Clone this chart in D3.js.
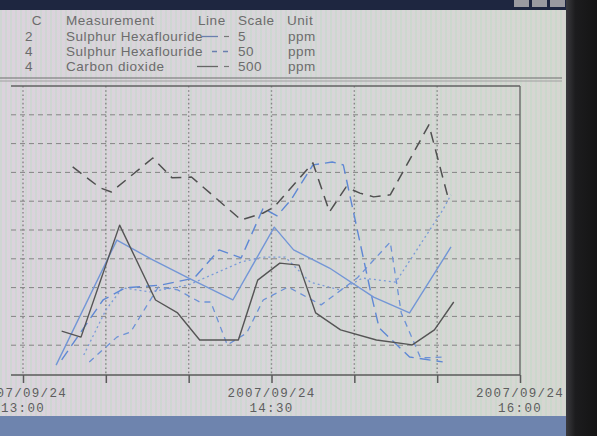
<!DOCTYPE html>
<html><head><meta charset="utf-8">
<script src="https://cdn.jsdelivr.net/npm/d3@7"></script>
<style>body{margin:0;background:#1b1b1b;overflow:hidden} svg{display:block}</style>
</head><body><svg id="c" width="597" height="436"></svg>
<script>
// ---------- data ----------
const tickTimes  = ["13:00","13:30","14:00","14:30","15:00","15:30","16:00"];
const labelTimes = ["13:00","14:30","16:00"];
const dateLabel  = "2007/09/24";
const yGrid      = [1,2,3,4,5,6,7,8,9];

const legendHeader = ["C","Measurement","Line","Scale","Unit"];
const legendC      = ["2","4","4"];
const legendName   = ["Sulphur Hexaflouride","Sulphur Hexaflouride","Carbon dioxide"];
const legendScale  = ["5","50","500"];
const legendUnit   = ["ppm","ppm","ppm"];

// values in grid divisions (0-10) of each trace's own full scale
const seriesA = [["13:18",7.19],["13:28",6.46],["13:32",6.32],["13:47",7.5],["13:54",6.81],["14:01",6.84],
  ["14:19",5.35],["14:27",5.59],["14:31",5.8],["14:45",7.33],["14:51",5.63],["14:57",6.49],["15:02",6.28],
  ["15:07",6.15],["15:13",6.22],["15:27",8.65],["15:34",6.11]];
const seriesB = [["13:14",1.49],["13:21",1.28],["13:35",5.17],["13:48",2.57],["13:56",2.12],["14:04",1.18],
  ["14:18",1.18],["14:25",3.26],["14:33",3.85],["14:40",3.78],["14:46",2.12],["14:55",1.53],["15:08",1.18],
  ["15:21",1.01],["15:29",1.53],["15:36",2.5]];
const seriesC = [["13:12",0.31],["13:34",4.65],["13:47",3.96],["14:00",3.33],["14:16",2.57],["14:31",5.1],
  ["14:38",4.31],["14:51",3.68],["15:07",2.67],["15:20",2.12],["15:35",4.41]];
const seriesD = [["13:14",0.49],["13:29",2.57],["13:37",2.99],["13:50",3.09],["14:02",3.33],["14:11",4.31],
  ["14:19",4.03],["14:27",5.76],["14:32",5.49],["14:37",6.04],["14:45",7.26],["14:52",7.36],["14:56",7.26],
  ["15:06",2.81],["15:09",1.6],["15:20",0.59],["15:32",0.42]];
const seriesE = [["13:24",0.42],["13:34",1.28],["13:39",1.46],["13:49",3.02],["13:56",2.92],["14:04",2.5],
  ["14:08",2.5],["14:14",1.01],["14:21",1.42],["14:27",2.57],["14:36",3.02],["14:48",2.4],["15:01",3.33],
  ["15:13",4.58],["15:17",2.12],["15:24",0.56],["15:33",0.59]];
const seriesF = [["13:22",0.66],["13:30",2.22],["13:36",2.99],["13:46",2.85],["14:00",3.09],["14:19",3.89],
  ["14:27",4.06],["14:35",4.06],["14:44",3.19],["14:55",2.92],["15:03",3.33],["15:15",3.19],["15:32",5.69],
  ["15:35",6.22]];

// ---------- drawing ----------
const svg = d3.select("#c");
const parse = d3.timeParse("%H:%M");

const defs = svg.append("defs");
const g1 = defs.append("linearGradient").attr("id","bg").attr("x1",0).attr("x2",1).attr("y1",0).attr("y2",0);
g1.append("stop").attr("offset","0").attr("stop-color","#dcd2dd");
g1.append("stop").attr("offset","0.55").attr("stop-color","#d9d5da");
g1.append("stop").attr("offset","1").attr("stop-color","#d6d6d1");
const g2 = defs.append("linearGradient").attr("id","bez").attr("x1",0).attr("x2",1);
g2.append("stop").attr("offset","0").attr("stop-color","#3a3a3e");
g2.append("stop").attr("offset","0.3").attr("stop-color","#1c1c1e");
g2.append("stop").attr("offset","1").attr("stop-color","#141414");
const pat = defs.append("pattern").attr("id","moire").attr("width",5).attr("height",4).attr("patternUnits","userSpaceOnUse");
pat.append("rect").attr("width",2).attr("height",4).attr("fill","#b8dcc0").attr("opacity",0.35);

// screen background
svg.append("rect").attr("width",597).attr("height",436).attr("fill","#1a1a1a");
svg.append("rect").attr("x",0).attr("y",9).attr("width",568).attr("height",408).attr("fill","url(#bg)");
svg.append("rect").attr("x",0).attr("y",9).attr("width",568).attr("height",408).attr("fill","url(#moire)");
// title bar
svg.append("rect").attr("x",0).attr("y",0).attr("width",568).attr("height",10).attr("fill","#1e2640");
svg.selectAll("rect.btn").data([0,1,2]).join("rect").attr("class","btn")
  .attr("x",(d,i)=>514+i*18).attr("y",0).attr("width",15).attr("height",7).attr("fill","#9a9aa0");
// bottom task bar
svg.append("rect").attr("x",0).attr("y",416).attr("width",568).attr("height",20).attr("fill","#6e84ae");
// right bezel
svg.append("rect").attr("x",566).attr("y",0).attr("width",31).attr("height",436).attr("fill","url(#bez)");

// header / legend
const txt = "#6c6c6c";
const hf = "'Liberation Sans', Arial, sans-serif";
const hy = [25, 41, 56, 71];
const L = svg.append("g").attr("font-family",hf).attr("font-size",13.5).attr("fill",txt).attr("letter-spacing",0.55);
const hx = [37, 66, 198, 238, 287];
legendHeader.forEach((h,i)=>{
  L.append("text").attr("x",hx[i]).attr("y",hy[0]).attr("text-anchor", i===0?"middle":"start").text(h);
});
legendC.forEach((c,i)=> L.append("text").attr("x",29).attr("y",hy[i+1]).attr("text-anchor","middle").text(c));
legendName.forEach((c,i)=> L.append("text").attr("x",66).attr("y",hy[i+1]).text(c));
legendScale.forEach((c,i)=> L.append("text").attr("x",238).attr("y",hy[i+1]).text(c));
legendUnit.forEach((c,i)=> L.append("text").attr("x",288).attr("y",hy[i+1]).text(c));
// line samples
const sampleStyle = [
  {x1:202,x2:218,stroke:"#6a7fae",dash:null,sep:true},
  {x1:212,x2:230,stroke:"#6a7fae",dash:"5,6",sep:false},
  {x1:197,x2:218,stroke:"#666",dash:null,sep:true}];
sampleStyle.forEach((s,i)=>{
  L.append("line").attr("x1",s.x1).attr("x2",s.x2).attr("y1",hy[i+1]-4.5).attr("y2",hy[i+1]-4.5)
    .attr("stroke",s.stroke).attr("stroke-width",1.3).attr("stroke-dasharray",s.dash);
  if (s.sep) L.append("line").attr("x1",224).attr("x2",229).attr("y1",hy[i+1]-4.5).attr("y2",hy[i+1]-4.5)
    .attr("stroke","#777").attr("stroke-width",1.2);
});
// separator
svg.append("line").attr("x1",0).attr("x2",562).attr("y1",78).attr("y2",78).attr("stroke","#6e6e6e").attr("stroke-width",1.2);
svg.append("line").attr("x1",0).attr("x2",562).attr("y1",81).attr("y2",81).attr("stroke","#a0a0a0").attr("stroke-width",1);

// plot scales
const x = d3.scaleTime().domain([parse("13:00"), parse("16:00")]).range([23, 520]);
const y = d3.scaleLinear().domain([0, 10]).range([374, 86]);
const plotLeft = 11, plotRight = 520;

// gridlines
const grid = svg.append("g").attr("stroke","#858585").attr("stroke-width",1);
grid.selectAll("line.h").data(yGrid).join("line").attr("class","h")
  .attr("x1",plotLeft).attr("x2",plotRight).attr("y1",d=>y(d)).attr("y2",d=>y(d))
  .attr("stroke-dasharray","5,4");
grid.selectAll("line.v").data(tickTimes.slice(0,-1)).join("line").attr("class","v")
  .attr("x1",d=>x(parse(d))).attr("x2",d=>x(parse(d))).attr("y1",y(10)).attr("y2",y(0))
  .attr("stroke-dasharray","1.6,2.6").attr("stroke-width",1.4);

// frame
const fr = svg.append("g").attr("stroke","#626262").attr("stroke-width",1.3).attr("fill","none");
fr.append("line").attr("x1",plotLeft).attr("x2",plotRight).attr("y1",y(10)).attr("y2",y(10));
fr.append("line").attr("x1",plotRight).attr("x2",plotRight).attr("y1",y(10)).attr("y2",y(0)+1);

// axis
const ax = svg.append("g").attr("transform",`translate(0,${y(0)+1})`)
  .call(d3.axisBottom(x).tickValues(tickTimes.map(parse)).tickSize(8).tickSizeOuter(0).tickFormat(""));
ax.select(".domain").attr("d",`M${plotLeft},0H${plotRight}`).attr("stroke","#5a5a5a").attr("stroke-width",1.3);
ax.selectAll(".tick line").attr("stroke","#5a5a5a").attr("stroke-width",1.5);
const lab = svg.append("g").attr("font-family","'Liberation Mono', 'DejaVu Sans Mono', monospace")
  .attr("font-size",12.5).attr("fill","#5e5e5e").attr("letter-spacing",1.3).attr("text-anchor","middle");
labelTimes.forEach(t=>{
  const xx = x(parse(t));
  lab.append("text").attr("x",xx).attr("y",397).text(dateLabel);
  lab.append("text").attr("x",xx).attr("y",412).text(t);
});

// series
const line = d3.line().x(d=>x(parse(d[0]))).y(d=>y(d[1]));
const styles = [
  {data:seriesF, stroke:"#7b9cd8", dash:"2,3", w:1.3},
  {data:seriesE, stroke:"#6d92d6", dash:"6,5", w:1.3},
  {data:seriesD, stroke:"#5f88d4", dash:"11,6", w:1.4},
  {data:seriesC, stroke:"#7396d6", dash:null, w:1.4},
  {data:seriesB, stroke:"#555555", dash:null, w:1.4},
  {data:seriesA, stroke:"#505050", dash:"11,7", w:1.5}];
const S = svg.append("g").attr("fill","none");
styles.forEach(s=>{
  S.append("path").datum(s.data).attr("d",line).attr("stroke",s.stroke)
   .attr("stroke-width",s.w).attr("stroke-dasharray",s.dash).attr("stroke-linejoin","round");
});
</script></body></html>
